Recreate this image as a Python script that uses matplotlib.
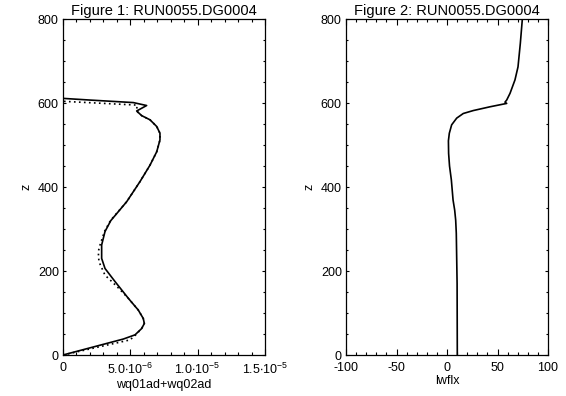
import numpy as np
import matplotlib.pyplot as plt
from matplotlib.ticker import MultipleLocator

plt.rcParams['font.family'] = ['Liberation Sans', 'DejaVu Sans']
plt.rcParams['mathtext.fontset'] = 'custom'
plt.rcParams['mathtext.rm'] = 'Liberation Sans'
plt.rcParams['mathtext.it'] = 'Liberation Sans'
plt.rcParams['axes.unicode_minus'] = False

# Perfil 1: wq01ad+wq02ad (unidades de 1e-6)
z_solid = np.array([0, 38, 48, 63, 75, 87, 107, 135, 175, 206, 230, 262, 294, 320, 365,
                    413, 452, 484, 512, 528, 544, 560, 570, 581, 594, 601, 607,
                    611, 800])
wq_solid = np.array([0.0, 4.48, 5.35, 5.84, 6.04, 5.96, 5.59, 4.85, 3.86, 3.12, 2.87,
                     2.87, 3.12, 3.55, 4.73, 5.72, 6.46, 6.96, 7.2, 7.2, 6.96, 6.46,
                     5.84, 5.47, 6.21, 5.22, 2.0, 0.0, 0.0]) * 1e-6

z_dot = np.array([0, 36, 48, 63, 75, 87, 107, 135, 160, 175, 190, 222, 246, 262, 294,
                  320, 365, 413, 452, 484, 512, 528, 544, 560, 570, 581, 595, 604, 800])
wq_dot = np.array([0.0, 4.98, 5.4, 5.84, 6.04, 5.96, 5.59, 4.85, 4.1, 3.62, 3.12, 2.67,
                   2.62, 2.75, 3.08, 3.52, 4.73, 5.72, 6.46, 6.96, 7.2, 7.2, 6.96, 6.46,
                   5.84, 5.47, 5.5, 0.0, 0.0]) * 1e-6

# Perfil 2: lwflx
z_lw = np.array([0, 170, 290, 321, 345, 369, 417, 450, 480, 510, 528, 548, 564, 575,
                 582, 591, 599, 602, 607, 623, 655, 686, 742, 800])
lwflx = np.array([10.2, 10.0, 9.2, 8.6, 7.6, 6.0, 4.3, 2.5, 1.6, 1.4, 2.3, 4.6, 9.6,
                  16.1, 26.0, 42.6, 59.1, 57.4, 59.1, 62.4, 67.3, 70.3, 72.6, 74.6])

xticks1 = [0, 5e-6, 1e-5, 1.5e-5]
xlabels1 = ['0', r'5.0$\bullet$10$^{-6}$', r'1.0$\bullet$10$^{-5}$', r'1.5$\bullet$10$^{-5}$']

fig = plt.figure(figsize=(5.66, 3.96), dpi=100)
ax1 = fig.add_axes([63 / 566, 41 / 396, 202 / 566, 336 / 396])
ax2 = fig.add_axes([346 / 566, 41 / 396, 202 / 566, 336 / 396])


def estilo(ax):
    ax.tick_params(which='both', direction='in', top=True, right=True, labelsize=9,
                   width=0.8)
    ax.tick_params(axis='x', which='major', length=4.3, pad=5)
    ax.tick_params(axis='x', which='minor', length=2)
    ax.tick_params(axis='y', which='major', length=2.5, pad=3)
    ax.tick_params(axis='y', which='minor', length=1.5)
    ax.set_ylim(0, 800)
    ax.yaxis.set_major_locator(MultipleLocator(200))
    ax.yaxis.set_minor_locator(MultipleLocator(50))
    ax.set_ylabel('z', fontsize=9, labelpad=4)
    for s in ax.spines.values():
        s.set_linewidth(0.9)
    # etiquetas extremas dentro del eje, como en IDL
    ticks = ax.yaxis.get_major_ticks()
    ticks[0].label1.set_va('bottom')
    ticks[-1].label1.set_va('top')


ax1.plot(wq_solid, z_solid, color='black', lw=1.2)
ax1.plot(wq_dot, z_dot, color='black', lw=1.2, ls=(0, (1, 2)))
ax1.set_xlim(0, 1.5e-5)
ax1.set_xticks(xticks1)
ax1.set_xticklabels(xlabels1)
ax1.xaxis.set_minor_locator(MultipleLocator(1e-6))
estilo(ax1)
ax1.set_xlabel('wq01ad+wq02ad', fontsize=9, labelpad=1)
ax1.set_title('Figure 1: RUN0055.DG0004', fontsize=10.5, pad=3)

ax2.plot(lwflx, z_lw, color='black', lw=1.2)
ax2.set_xlim(-100, 100)
ax2.xaxis.set_major_locator(MultipleLocator(50))
ax2.xaxis.set_minor_locator(MultipleLocator(10))
estilo(ax2)
ax2.set_xlabel('lwflx', fontsize=9, labelpad=1)
ax2.set_title('Figure 2: RUN0055.DG0004', fontsize=10.5, pad=3)

fig.savefig('out.png', dpi=100)
